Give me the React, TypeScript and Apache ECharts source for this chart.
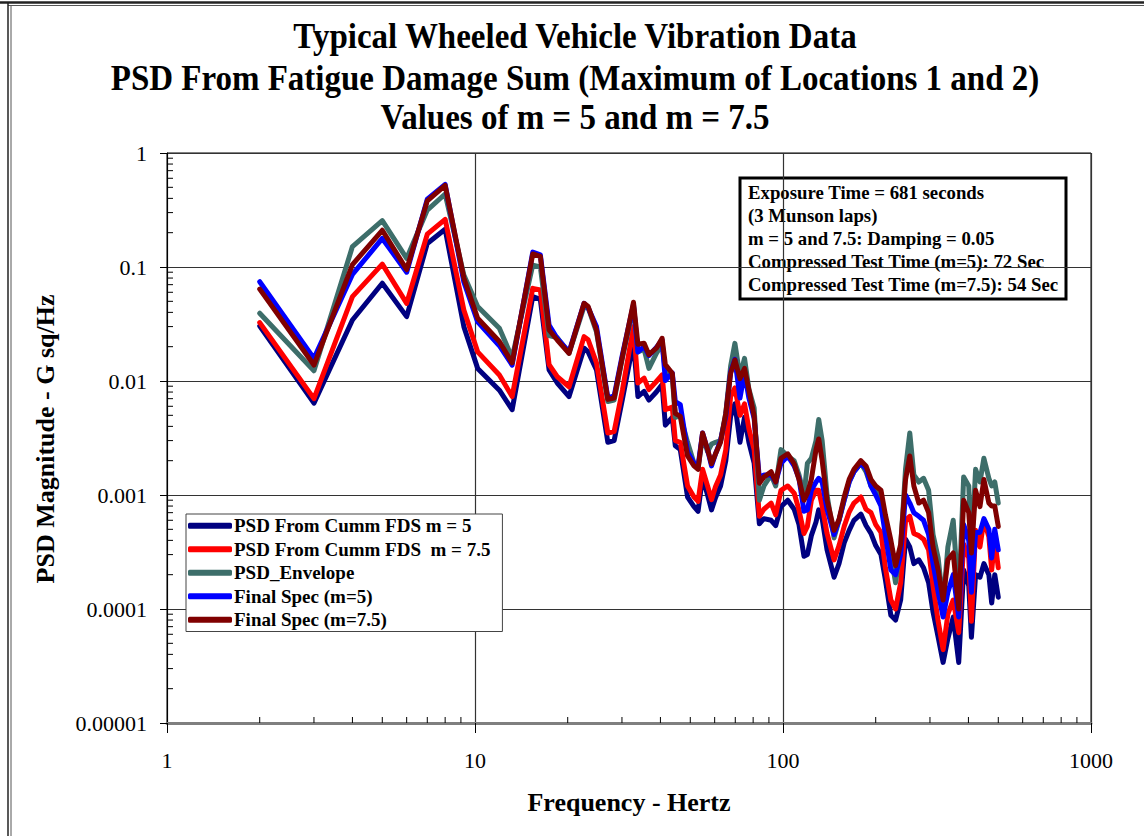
import React, { useEffect, useRef } from "react";
import * as echarts from "echarts";

// ---------- DATA ----------
const titleLines = [
  "Typical Wheeled Vehicle Vibration Data",
  "PSD From Fatigue Damage Sum (Maximum of Locations 1 and 2)",
  "Values of m = 5 and m = 7.5",
];
const xAxisName = "Frequency - Hertz";
const yAxisName = "PSD Magnitude - G sq/Hz";
const xTickLabels = ["1", "10", "100", "1000"];
const yTickLabels = ["0.00001", "0.0001", "0.001", "0.01", "0.1", "1"];
const seriesNames = [
  "PSD From Cumm FDS m = 5",
  "PSD From Cumm FDS  m = 7.5",
  "PSD_Envelope",
  "Final Spec (m=5)",
  "Final Spec (m=7.5)",
];
const annotationLines = [
  "Exposure Time = 681 seconds",
  "(3 Munson laps)",
  "m = 5 and 7.5: Damping = 0.05",
  "Compressed Test Time (m=5): 72 Sec",
  "Compressed Test Time (m=7.5): 54 Sec",
];

const freqs = [
  2, 3, 4, 5, 6, 7, 8, 9.2, 10.2, 12, 13.2, 15.4, 16.3, 17.4, 18.5, 20.2, 22.6, 23.3, 24.8, 27,
  28.3, 30.1, 32.7, 33.8, 35.4, 36.7, 38.8, 40.5, 41.5, 43.7, 44.7, 46.4, 49, 51.4, 53, 54.8, 56.9, 58.6, 60.4, 62.7,
  65.2, 67.6, 69.8, 72.5, 75, 77.5, 80.6, 83.8, 86.7, 91.5, 94.7, 98.5, 103.6, 108.7, 112.7, 117, 120, 123.6, 128, 130.6,
  134, 139, 146.5, 152, 158, 164, 170, 179, 186, 193, 200, 208, 215, 224, 232, 241, 250, 258, 266, 276,
  286, 297, 307, 319, 331, 343, 357, 372, 386, 401, 409, 422, 436, 449, 466, 476, 487, 500,
];

const psdM5 = [
  0.0304, 0.0064, 0.0343, 0.072, 0.0367, 0.161, 0.214, 0.03, 0.0129, 0.0083, 0.0056, 0.055, 0.052, 0.0125, 0.0096, 0.0073, 0.0194, 0.018, 0.0125, 0.0029,
  0.003, 0.0069, 0.022, 0.0073, 0.0081, 0.0068, 0.008, 0.0093, 0.0041, 0.0048, 0.0027, 0.0025, 0.00096, 0.00079, 0.00072, 0.00144, 0.001, 0.00074, 0.00095, 0.0012,
  0.002, 0.0049, 0.0063, 0.0029, 0.0048, 0.0029, 0.0019, 0.00056, 0.00062, 0.0006, 0.00054, 0.00079, 0.0009, 0.00075, 0.00055, 0.00029, 0.0003, 0.00044, 0.00058, 0.00074,
  0.00062, 0.00033, 0.00019, 0.00025, 0.00038, 0.00049, 0.0006, 0.00068, 0.00054, 0.00046, 0.00036, 0.0003, 0.00018, 0.000088, 0.00008, 0.00012, 0.00041, 0.00035, 0.00025, 0.00027,
  0.00023, 0.00017, 0.000094, 0.0000565, 0.000034, 0.000055, 0.000085, 0.000034, 0.00022, 0.00016, 0.0000565, 0.0002, 0.00019, 0.00025, 0.0002, 0.000113, 0.0002, 0.000127,
];
const psdM75 = [
  0.0325, 0.007, 0.055, 0.106, 0.048, 0.194, 0.262, 0.042, 0.018, 0.0113, 0.0073, 0.065, 0.063, 0.0139, 0.0109, 0.0089, 0.0245, 0.023, 0.0144, 0.0035,
  0.0036, 0.0083, 0.03, 0.0096, 0.0106, 0.0084, 0.0099, 0.0113, 0.0056, 0.0059, 0.003, 0.0029, 0.0012, 0.00096, 0.00088, 0.00168, 0.0012, 0.00091, 0.00119, 0.0015,
  0.0025, 0.0073, 0.0087, 0.005, 0.0063, 0.0038, 0.0025, 0.00065, 0.00075, 0.00085, 0.00067, 0.0011, 0.0012, 0.00104, 0.00074, 0.00046, 0.00053, 0.0009, 0.0011, 0.0011,
  0.0008, 0.00046, 0.00027, 0.00036, 0.00053, 0.00071, 0.00085, 0.00096, 0.00075, 0.0007, 0.00055, 0.00047, 0.00023, 0.00012, 0.0001, 0.00017, 0.0006, 0.00065, 0.00046, 0.00044,
  0.00041, 0.00033, 0.00016, 0.000078, 0.000044, 0.00009, 0.00012, 0.000062, 0.00037, 0.00028, 0.000078, 0.00049, 0.00035, 0.0006, 0.00043, 0.00022, 0.0004, 0.00023,
];
const psdEnvelope = [
  0.0393, 0.0123, 0.151, 0.255, 0.119, 0.316, 0.437, 0.085, 0.045, 0.029, 0.016, 0.104, 0.1, 0.025, 0.024, 0.0175, 0.045, 0.044, 0.027, 0.0066,
  0.0068, 0.016, 0.045, 0.018, 0.019, 0.0129, 0.0175, 0.021, 0.0125, 0.011, 0.0048, 0.005, 0.0029, 0.0019, 0.0017, 0.0033, 0.0024, 0.0028, 0.0029, 0.003,
  0.0052, 0.0135, 0.0214, 0.011, 0.0158, 0.0085, 0.0058, 0.0009, 0.0012, 0.0015, 0.0012, 0.0025, 0.0022, 0.002, 0.0015, 0.001, 0.0019, 0.0021, 0.003, 0.0046,
  0.003, 0.001, 0.00042, 0.0006, 0.0009, 0.0013, 0.0016, 0.0019, 0.0016, 0.0012, 0.0011, 0.001, 0.0006, 0.0003, 0.00017, 0.00035, 0.0017, 0.0035, 0.0015, 0.0013,
  0.0014, 0.0011, 0.00045, 0.00028, 0.00011, 0.00035, 0.0006, 0.00012, 0.00144, 0.0012, 0.0003, 0.00168, 0.0013, 0.0021, 0.0014, 0.0012, 0.0013, 0.00085,
];
const finalSpecM5 = [
  0.0743, 0.0158, 0.086, 0.178, 0.09, 0.393, 0.53, 0.074, 0.033, 0.0204, 0.0138, 0.135, 0.128, 0.031, 0.0236, 0.018, 0.048, 0.044, 0.03, 0.0071,
  0.0074, 0.017, 0.047, 0.018, 0.02, 0.0167, 0.0197, 0.0229, 0.0101, 0.0118, 0.0066, 0.0062, 0.0024, 0.0019, 0.0018, 0.0035, 0.0025, 0.0018, 0.0023, 0.003,
  0.0049, 0.012, 0.0155, 0.0071, 0.0118, 0.0071, 0.0047, 0.0014, 0.0015, 0.0015, 0.0013, 0.0019, 0.0022, 0.0018, 0.0014, 0.00072, 0.00074, 0.0011, 0.0013, 0.0014,
  0.0013, 0.00075, 0.00045, 0.0006, 0.0009, 0.0013, 0.0016, 0.0019, 0.0017, 0.0012, 0.001, 0.0008, 0.00045, 0.00022, 0.0002, 0.0003, 0.001, 0.00085, 0.0007, 0.00065,
  0.0006, 0.00045, 0.00025, 0.00014, 0.000085, 0.00014, 0.0002, 0.000085, 0.00055, 0.0004, 0.00014, 0.00047, 0.00047, 0.00062, 0.0005, 0.00028, 0.0005, 0.00033,
];
const finalSpecM75 = [
  0.064, 0.0138, 0.105, 0.21, 0.095, 0.38, 0.52, 0.08, 0.0355, 0.0222, 0.0144, 0.13, 0.124, 0.028, 0.0229, 0.0175, 0.048, 0.045, 0.028, 0.0069,
  0.0071, 0.0163, 0.049, 0.021, 0.0214, 0.017, 0.0194, 0.0237, 0.0139, 0.0117, 0.0052, 0.0049, 0.0022, 0.0018, 0.00168, 0.0035, 0.0025, 0.00188, 0.0023, 0.0029,
  0.0052, 0.0117, 0.0153, 0.0105, 0.0129, 0.0084, 0.0049, 0.00127, 0.00144, 0.0016, 0.0013, 0.0021, 0.0023, 0.00188, 0.00137, 0.0009, 0.00104, 0.00137, 0.0025, 0.0031,
  0.002, 0.0009, 0.00049, 0.00061, 0.00096, 0.00137, 0.00168, 0.002, 0.0018, 0.00137, 0.0012, 0.0011, 0.00067, 0.0004, 0.00024, 0.00037, 0.00137, 0.0022, 0.0012, 0.00085,
  0.0009, 0.0007, 0.00035, 0.00022, 0.00012, 0.00027, 0.00031, 0.0001, 0.0009, 0.0007, 0.00031, 0.0011, 0.00079, 0.00137, 0.00085, 0.0008, 0.0008, 0.00053,
];

const seriesValues = [psdM5, psdM75, psdEnvelope, finalSpecM5, finalSpecM75];
const seriesColors = ["#000080", "#ff0000", "#3d6e6a", "#0000ff", "#800000"];

// axis decoration: minor tick multipliers within each decade
const minorMultipliers = [2, 3, 4, 5, 6, 7, 8, 9];
const xDecades = [1, 10, 100];
const yDecades = [0.00001, 0.0001, 0.001, 0.01, 0.1];

const SERIF = "'Liberation Serif', 'Times New Roman', serif";

export default function App() {
  const ref = useRef<HTMLDivElement>(null);

  useEffect(() => {
    if (!ref.current) return;
    const chart = echarts.init(ref.current, null, { renderer: "svg" });

    const xMinor: number[][] = [];
    xDecades.forEach((d) => minorMultipliers.forEach((m) => xMinor.push([d * m, 0.00001])));
    const yMinor: number[][] = [];
    yDecades.forEach((d) => minorMultipliers.forEach((m) => yMinor.push([1, d * m])));

    const lineSeries = seriesNames.map((name, i) => ({
      name,
      type: "line",
      data: freqs.map((f, k) => [f, seriesValues[i][k]]),
      showSymbol: false,
      symbol: "none",
      color: seriesColors[i],
      lineStyle: { width: 5, color: seriesColors[i], cap: "round", join: "round" },
      z: 3 + i,
      silent: true,
    }));

    const option: any = {
      animation: false,
      backgroundColor: "#ffffff",
      grid: {
        left: 167,
        top: 153,
        width: 924,
        height: 570,
        show: true,
        borderColor: "#000",
        borderWidth: 1,
        containLabel: false,
      },
      xAxis: {
        type: "log",
        logBase: 10,
        min: 1,
        max: 1000,
        axisLine: { show: true, onZero: false, lineStyle: { color: "#7f7f7f", width: 3 } },
        axisTick: { show: true, inside: false, length: 10, lineStyle: { color: "#000", width: 1 } },
        axisLabel: {
          fontFamily: SERIF,
          fontSize: 22,
          color: "#000",
          margin: 26,
          formatter: (v: number) => xTickLabels[Math.round(Math.log10(v))] ?? "",
        },
        splitLine: { show: true, lineStyle: { color: "#333", width: 1.2 } },
      },
      yAxis: {
        type: "log",
        logBase: 10,
        min: 0.00001,
        max: 1,
        axisLine: { show: true, onZero: false, lineStyle: { color: "#000", width: 1 } },
        axisTick: { show: true, inside: false, length: 7, lineStyle: { color: "#000", width: 1 } },
        axisLabel: {
          fontFamily: SERIF,
          fontSize: 22,
          color: "#000",
          margin: 20,
          formatter: (v: number) => yTickLabels[Math.round(Math.log10(v)) + 5] ?? "",
        },
        splitLine: { show: true, lineStyle: { color: "#333", width: 1.2 } },
      },
      legend: {
        show: true,
        data: seriesNames,
        orient: "vertical",
        left: 186,
        top: 514,
        itemWidth: 44,
        itemHeight: 6,
        itemGap: 4,
        icon: "roundRect",
        selectedMode: false,
        padding: [2, 12, 2, 2],
        backgroundColor: "#fff",
        borderColor: "#444",
        borderWidth: 1,
        borderRadius: 0,
        textStyle: {
          fontFamily: SERIF,
          fontWeight: "bold",
          fontSize: 19,
          lineHeight: 19.5,
          color: "#000",
          padding: [0, 0, 0, -3],
        },
        z: 20,
      },
      series: [
        ...lineSeries,
        {
          type: "custom",
          silent: true,
          clip: false,
          z: 10,
          data: xMinor,
          renderItem: (_p: any, api: any) => {
            const p = api.coord([api.value(0), api.value(1)]);
            return {
              type: "line",
              shape: { x1: p[0], y1: p[1], x2: p[0], y2: p[1] - 6 },
              style: { stroke: "#000", lineWidth: 1 },
            };
          },
        },
        {
          type: "custom",
          silent: true,
          clip: false,
          z: 10,
          data: yMinor,
          renderItem: (_p: any, api: any) => {
            const p = api.coord([api.value(0), api.value(1)]);
            return {
              type: "line",
              shape: { x1: p[0], y1: p[1], x2: p[0] + 6, y2: p[1] },
              style: { stroke: "#000", lineWidth: 1 },
            };
          },
        },
      ],
      graphic: [
        // outer frame
        { type: "line", shape: { x1: 0, y1: 2.5, x2: 1144, y2: 2.5 }, style: { stroke: "#222", lineWidth: 2.5 } },
        { type: "line", shape: { x1: 8, y1: 5.5, x2: 1144, y2: 5.5 }, style: { stroke: "#555", lineWidth: 1.2 } },
        { type: "line", shape: { x1: 8, y1: 2, x2: 8, y2: 836 }, style: { stroke: "#222", lineWidth: 1.5 } },
        { type: "line", shape: { x1: 11, y1: 5.5, x2: 11, y2: 836 }, style: { stroke: "#555", lineWidth: 1 } },
        // title
        ...titleLines.map((t, i) => ({
          type: "text",
          x: 575,
          y: [36, 78, 117][i],
          scaleX: 0.943,
          style: {
            text: t,
            fill: "#000",
            font: `bold 35px ${SERIF}`,
            textAlign: "center",
            textVerticalAlign: "middle",
          },
        })),
        // axis names
        {
          type: "text",
          x: 629,
          y: 802,
          style: {
            text: xAxisName,
            fill: "#000",
            font: `bold 26px ${SERIF}`,
            textAlign: "center",
            textVerticalAlign: "middle",
          },
        },
        {
          type: "text",
          x: 45,
          y: 439,
          rotation: Math.PI / 2,
          style: {
            text: yAxisName,
            fill: "#000",
            font: `bold 26px ${SERIF}`,
            textAlign: "center",
            textVerticalAlign: "middle",
          },
        },
        // annotation box
        {
          type: "group",
          z: 30,
          children: [
            {
              type: "rect",
              shape: { x: 740, y: 178, width: 326, height: 121 },
              style: { fill: "#fff", stroke: "#000", lineWidth: 3 },
            },
            ...annotationLines.map((t, i) => ({
              type: "text",
              x: 748,
              y: 192 + i * 23,
              style: {
                text: t,
                fill: "#000",
                font: `bold 18.8px ${SERIF}`,
                textAlign: "left",
                textVerticalAlign: "middle",
              },
            })),
          ],
        },
      ],
    };

    chart.setOption(option);
    return () => chart.dispose();
  }, []);

  return (
    <div
      ref={ref}
      style={{ position: "fixed", left: 0, top: 0, width: 1144, height: 836, background: "#fff" }}
    />
  );
}
